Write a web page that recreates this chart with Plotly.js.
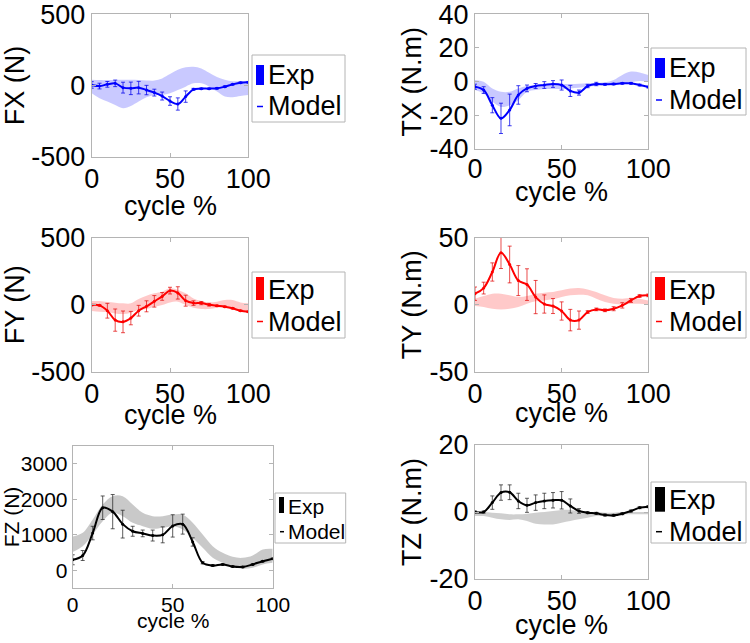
<!DOCTYPE html>
<html>
<head>
<meta charset="utf-8">
<script src="https://cdn.plot.ly/plotly-3.0.1.min.js"></script>
<style>html,body{margin:0;padding:0;background:#fff;}#chart{width:750px;height:643px;}</style>
</head>
<body>
<div id="chart"></div>
<script>
// ---- data (cycle %, every 5 %) ----
const cycle = [0,5,10,15,20,25,30,35,40,45,50,55,60,65,70,75,80,85,90,95,100];

const fxModel = [4,-4,8,15,-15,-20,-15,-32,-50,-74,-109,-130,-78,-27,-22,-22,-20,-8,8,20,22];
const fxErr   = [23,20,20,23,38,44,44,33,24,28,30,43,40,7,5,5,5,6,5,5,5];
const fxExpHi = [40,38,38,40,40,40,38,35,35,50,80,110,128,132,120,90,60,40,30,32,34];
const fxExpLo = [-55,-90,-113,-137,-160,-144,-113,-83,-67,-67,-55,-32,-8,15,15,-8,-43,-78,-83,-74,-67];

const txModel = [-3,-5,-14,-21.8,-16.8,-7.9,-4,-2.6,-2,-1.4,-2,-5.5,-6.5,-2.6,-1.4,-1.6,-1.4,-1,-1,-2,-3.2];
const txErr   = [1.5,2,4.5,9,9.4,5.5,2,1.5,2,2,3,3.3,1.5,1,1,0.5,0.5,0.5,0.5,0.5,0.5];
const txExpHi = [1,0,-4,-6,-6,-4,-2.6,-2,-1.6,-1.4,-1.4,-1.4,-1.2,-1,-0.8,-0.4,1,4,6,5.5,4];
const txExpLo = [-5,-7,-12,-15,-14,-11,-6,-5,-4.4,-4.4,-4.4,-4,-3.6,-3,-2.4,-2,-1.6,-1.2,-0.4,0.4,0];

const fyModel = [-2,-5,-45,-115,-128,-100,-45,-12,25,62,105,88,30,12,12,0,-8,-15,-27,-45,-52];
const fyErr   = [5,5,55,83,81,50,40,41,43,29,25,46,41,17,12,10,5,5,5,5,5];
const fyExpHi = [27,27,20,15,10,10,42,67,85,97,122,110,85,47,27,17,22,35,35,17,10];
const fyExpLo = [-47,-52,-55,-65,-70,-60,-40,-32,-15,-2,17,22,-2,-22,-32,-32,-22,-22,-32,-47,-52];

const tyModel = [8.2,12.4,24.4,38.8,30,18,15,5.7,0.5,-1,-4.7,-11.5,-11.5,-5.5,-3.5,-4.2,-3,-0.5,3.2,6.5,7];
const tyErr   = [5,4.4,6.8,11.8,13.7,11.2,11.8,12.4,6.8,5.6,6.8,8,6.8,1,1,1,1.5,2,1.5,1,1];
const tyExpHi = [4.5,6.5,8.2,8.2,7,5.7,6.5,8.2,9,9.5,10.7,12,12.4,11.4,9.5,7,5,4.5,5,4.5,3.2];
const tyExpLo = [-1,-1.7,-3,-3.5,-3,-1.7,0.7,2.5,3.2,4,5.7,7,7.5,7,4.5,2,0.7,0.2,0.7,0.7,0];

const fzModel = [300,420,1050,1760,1650,1300,1100,1040,980,1000,1250,1300,800,215,140,170,110,100,170,260,330];
const fzErr   = [140,140,190,330,480,390,140,94,154,224,313,280,117,30,25,25,20,20,20,20,20];
const fzExpHi = [950,1056,1430,1851,2085,2085,1851,1617,1524,1524,1570,1570,1337,1010,683,496,383,355,421,589,608];
const fzExpLo = [520,683,1010,1384,1617,1524,1337,1243,1169,1197,1243,1150,916,636,355,215,103,47,75,168,215];

const tzModel = [0,0,2.8,5.8,5.9,3.3,2,2.8,3.3,3.5,3.5,1.8,0.3,-0.2,-0.4,-0.9,-1,-0.5,0.3,1.3,1.6];
const tzErr   = [0.3,0.3,2,2.3,2.2,2.3,2.1,2.3,2.3,2.3,2.6,2.1,0.7,0.3,0.3,0.3,0.3,0.3,0.3,0.3,0.3];
const tzExpHi = [0.3,0,-0.2,-0.4,-0.7,-0.7,-0.5,-0.2,0,0.3,0.6,0.6,0.3,0,0,-0.2,-0.2,0,0,0,0];
const tzExpLo = [-1.2,-1.2,-1.7,-2.2,-2.4,-2.2,-2.7,-3.5,-3.7,-3.7,-3.2,-2.7,-2.2,-1.7,-1.2,-1.2,-1,-0.7,-0.7,-0.7,-0.7];

const panelTitles = ['FX (N)','TX (N.m)','FY (N)','TY (N.m)','FZ (N)','TZ (N.m)'];
const xTitle = 'cycle %';
const legendLabels = ['Exp','Model'];
const xTicks = [0,50,100];
const yTicks = [
  [-500,0,500],
  [-40,-20,0,20,40],
  [-500,0,500],
  [-50,0,50],
  [0,1000,2000,3000],
  [-20,0,20]
];
const yRanges = [[-500,500],[-40,40],[-500,500],[-50,50],[-500,3500],[-20,20]];

// ---- styling / layout (pixels) ----
const W = 750, H = 643;
const FONT = 'Liberation Sans, Arial, sans-serif';
const series = [
  {model:fxModel, err:fxErr, hi:fxExpHi, lo:fxExpLo},
  {model:txModel, err:txErr, hi:txExpHi, lo:txExpLo},
  {model:fyModel, err:fyErr, hi:fyExpHi, lo:fyExpLo},
  {model:tyModel, err:tyErr, hi:tyExpHi, lo:tyExpLo},
  {model:fzModel, err:fzErr, hi:fzExpHi, lo:fzExpLo},
  {model:tzModel, err:tzErr, hi:tzExpHi, lo:tzExpLo}
];
const styles = [
  {line:'#0000ff', band:'rgba(0,0,255,0.21)', eb:'rgba(0,0,235,0.75)', fs:27, ysd:2, xls:-2},
  {line:'#0000ff', band:'rgba(0,0,255,0.21)', eb:'rgba(0,0,235,0.75)', fs:27, ysd:0, xls:-4},
  {line:'#ff0000', band:'rgba(255,0,0,0.21)', eb:'rgba(225,0,0,0.7)', fs:27, ysd:2, xls:-2},
  {line:'#ff0000', band:'rgba(255,0,0,0.21)', eb:'rgba(225,0,0,0.7)', fs:27, ysd:0, xls:-2},
  {line:'#000000', band:'rgba(0,0,0,0.21)', eb:'rgba(40,40,40,0.75)', fs:21, ysd:2, xls:-3},
  {line:'#000000', band:'rgba(0,0,0,0.19)', eb:'rgba(40,40,40,0.75)', fs:27, ysd:0, xls:-2}
];
// plot boxes [left, right, top, bottom] in px
const boxes = [
  [91.7,248.3,14.3,156.7],
  [475,648.3,14.3,149],
  [91.7,248.3,237.7,371.7],
  [475,648.3,237.7,371.7],
  [72.7,272.7,445.7,588.3],
  [475,648.3,445,579]
];
// x-title centre y (px)
const xTitleY = [206, 192.5, 415, 412.5, 620, 625];
// legend boxes [left, right, top, bottom, expY, modelY, barTop, barBottom, barW]
const legBoxes = [
  [252,345,55,122, 75,106.5, 65,85, 8],
  [651,746,48,115, 68,100, 58,78, 10],
  [252,345,272,338, 290,321.5, 277,300, 8],
  [651,746,272,338, 290,321.5, 277,300, 10],
  [275,345.7,493,543, 506.7,531.7, 497,513, 5],
  [651,746,482,543, 500,531.7, 487,511.7, 10]
];
const px = v => v / W;
const py = v => 1 - v / H;

const traces = [];
const layout = {
  width: W, height: H,
  margin: {l:0, r:0, t:0, b:0},
  paper_bgcolor: '#fff', plot_bgcolor: '#fff',
  showlegend: false,
  font: {family: FONT, color: '#000'},
  shapes: [], annotations: []
};

series.forEach((s, i) => {
  const n = i + 1;
  const xa = 'x' + (n === 1 ? '' : n), ya = 'y' + (n === 1 ? '' : n);
  const st = styles[i];
  // band: lower edge then upper filled to it
  traces.push({x: cycle, y: s.lo, xaxis: xa, yaxis: ya, mode: 'lines',
    line: {width: 0, shape: 'spline', smoothing: 1}, hoverinfo: 'skip', name: legendLabels[0]});
  traces.push({x: cycle, y: s.hi, xaxis: xa, yaxis: ya, mode: 'lines', fill: 'tonexty',
    fillcolor: st.band, line: {width: 0, shape: 'spline', smoothing: 1}, name: legendLabels[0]});
  // model with error bars
  traces.push({x: cycle, y: s.model, xaxis: xa, yaxis: ya, mode: 'lines+markers',
    line: {color: st.line, width: 2, shape: 'spline', smoothing: 1},
    marker: {color: st.line, size: 3},
    error_y: {type: 'data', array: s.err, visible: true, color: st.eb, thickness: 1, width: 2},
    name: legendLabels[1]});

  const b = boxes[i];
  const axCommon = {
    showgrid: false, zeroline: false, showline: true, mirror: 'ticks',
    linecolor: '#b4b4b4', linewidth: 1, ticks: 'inside', ticklen: 4, tickcolor: '#b4b4b4',
    tickfont: {family: FONT, size: st.fs, color: '#000'}, automargin: false, fixedrange: true,
    ticklabeloverflow: 'allow'
  };
  layout['xaxis' + (n === 1 ? '' : n)] = Object.assign({}, axCommon, {
    domain: [px(b[0]), px(b[1])], anchor: ya, range: [0, 100],
    tickmode: 'array', tickvals: xTicks, ticktext: xTicks.map(String),
    ticklabelstandoff: st.xls
  });
  layout['yaxis' + (n === 1 ? '' : n)] = Object.assign({}, axCommon, {
    domain: [py(b[3]), py(b[2])], anchor: xa, range: yRanges[i],
    tickmode: 'array', tickvals: yTicks[i], ticktext: yTicks[i].map(String),
    title: {text: panelTitles[i], font: {family: FONT, size: st.fs, color: '#000'}, standoff: st.ysd}
  });
  // x-axis title placed as text just under the tick labels (MATLAB tight layout)
  layout.annotations.push({xref: 'paper', yref: 'paper', x: px((b[0] + b[1]) / 2), y: py(xTitleY[i]),
    xanchor: 'center', yanchor: 'middle', showarrow: false, text: xTitle,
    font: {family: FONT, size: st.fs, color: '#000'}});

  // legend box (drawn manually, MATLAB style)
  const L = legBoxes[i];
  layout.shapes.push({type: 'rect', xref: 'paper', yref: 'paper',
    x0: px(L[0]), x1: px(L[1]), y0: py(L[3]), y1: py(L[2]),
    line: {color: '#b4b4b4', width: 1}, fillcolor: '#fff', layer: 'above'});
  layout.shapes.push({type: 'rect', xref: 'paper', yref: 'paper',
    x0: px(L[0] + 4), x1: px(L[0] + 4 + L[8]), y0: py(L[7]), y1: py(L[6]),
    line: {width: 0}, fillcolor: st.line, layer: 'above'});
  layout.shapes.push({type: 'line', xref: 'paper', yref: 'paper',
    x0: px(L[0] + 5), x1: px(L[0] + 4 + Math.min(L[8], 7)), y0: py(L[5]), y1: py(L[5]),
    line: {color: st.line, width: 1.5}, layer: 'above'});
  const textX = L[0] + 6 + L[8];
  layout.annotations.push({xref: 'paper', yref: 'paper', x: px(textX), y: py(L[4]),
    xanchor: 'left', yanchor: 'middle', showarrow: false, text: legendLabels[0],
    font: {family: FONT, size: st.fs, color: '#000'}});
  layout.annotations.push({xref: 'paper', yref: 'paper', x: px(textX), y: py(L[5]),
    xanchor: 'left', yanchor: 'middle', showarrow: false, text: legendLabels[1],
    font: {family: FONT, size: st.fs, color: '#000'}});
});

Plotly.newPlot('chart', traces, layout, {staticPlot: true, displayModeBar: false});
</script>
</body>
</html>
